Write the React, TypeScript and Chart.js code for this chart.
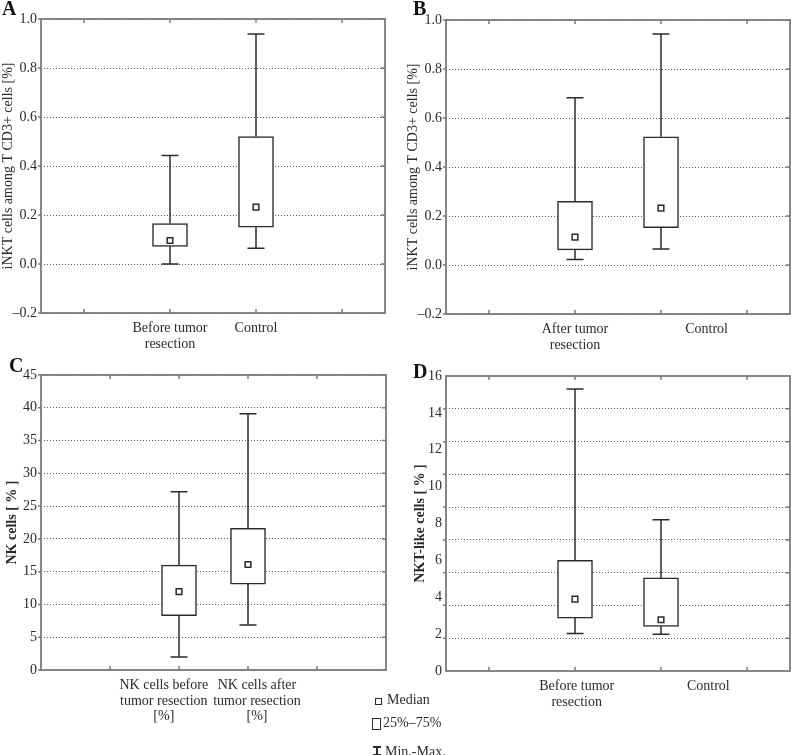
import React, { useEffect, useRef } from "react";
import { Chart, registerables } from "chart.js";

Chart.register(...registerables);

const FONT = "'Liberation Serif', 'Times New Roman', serif";
const INK = "#2b2b2b";
const FRAME = "#7a7a7a";
const GRID = "#5a5a5a";

// ---------- Panel A ----------
const labelsA = [["Before tumor", "resection"], ["Control"]];
const posA = [1.5, 2.5];
const labelPosA = [1.5, 2.5];
const tickMarksA = [0.5, 1.5, 2.5, 3.5];
const minA = [0.0, 0.064];
const q1A = [0.072, 0.15];
const medA = [0.096, 0.232];
const q3A = [0.165, 0.52];
const maxA = [0.443, 0.939];

// ---------- Panel B ----------
const labelsB = [["After tumor", "resection"], ["Control"]];
const posB = [1.5, 2.5];
const labelPosB = [1.5, 3.03];
const tickMarksB = [0.5, 1.5, 2.5, 3.5];
const minB = [0.022, 0.065];
const q1B = [0.062, 0.152];
const medB = [0.114, 0.232];
const q3B = [0.26, 0.523];
const maxB = [0.683, 0.943];

// ---------- Panel C ----------
const labelsC = [
  ["NK cells before", "tumor resection", "[%]"],
  ["NK cells after", "tumor resection", "[%]"],
];
const posC = [2, 3];
const labelPosC = [1.78, 3.13];
const tickMarksC = [1, 2, 3, 4];
const minC = [1.98, 6.86];
const q1C = [8.29, 13.1];
const medC = [11.95, 16.1];
const q3C = [16.0, 21.6];
const maxC = [27.2, 39.1];

// ---------- Panel D ----------
const labelsD = [["Before tumor", "resection"], ["Control"]];
const posD = [1.5, 2.5];
const labelPosD = [1.52, 3.05];
const tickMarksD = [0.5, 1.5, 2.5, 3.5];
const minD = [2.03, 2.0];
const q1D = [2.87, 2.42];
const medD = [3.9, 2.78];
const q3D = [6.0, 5.05];
const maxD = [15.3, 8.2];
const gridLinesD = [1.78, 3.56, 5.33, 7.11, 8.89, 10.67, 12.44, 14.22];

type PanelCfg = {
  labels: string[][];
  pos: number[];
  labelPos: number[];
  tickMarks: number[];
  mins: number[];
  q1: number[];
  med: number[];
  q3: number[];
  maxs: number[];
  xMax: number;
  yMin: number;
  yMax: number;
  yStep: number;
  yFmt: (v: number) => string;
  yTitle: string;
  titleBold: boolean;
  titlePad: number;
  pad: { top: number; right: number };
  yWidth: number;
  xHeight: number;
  extraGrid?: number[];
};

function makeChart(canvas: HTMLCanvasElement, c: PanelCfg) {
  const extras = {
    id: "boxExtras",
    afterDatasetsDraw(chart: any) {
      const ctx = chart.ctx;
      const xs = chart.scales.x;
      const ys = chart.scales.y;
      ctx.save();
      ctx.strokeStyle = INK;
      ctx.lineWidth = 1.5;
      const cap = 8.5;
      c.pos.forEach((p, i) => {
        const x = xs.getPixelForValue(p);
        const yMinP = ys.getPixelForValue(c.mins[i]);
        const yQ1 = ys.getPixelForValue(c.q1[i]);
        const yQ3 = ys.getPixelForValue(c.q3[i]);
        const yMaxP = ys.getPixelForValue(c.maxs[i]);
        ctx.beginPath();
        ctx.moveTo(x, yMinP);
        ctx.lineTo(x, yQ1);
        ctx.moveTo(x, yQ3);
        ctx.lineTo(x, yMaxP);
        ctx.moveTo(x - cap, yMinP);
        ctx.lineTo(x + cap, yMinP);
        ctx.moveTo(x - cap, yMaxP);
        ctx.lineTo(x + cap, yMaxP);
        ctx.stroke();
      });
      ctx.restore();
    },
    afterDraw(chart: any) {
      const ctx = chart.ctx;
      const a = chart.chartArea;
      const xs = chart.scales.x;
      const ys = chart.scales.y;
      ctx.save();
      ctx.strokeStyle = FRAME;
      ctx.lineWidth = 1.5;
      ctx.beginPath();
      c.tickMarks.forEach((t) => {
        const x = xs.getPixelForValue(t);
        ctx.moveTo(x, a.top);
        ctx.lineTo(x, a.top + 4);
        ctx.moveTo(x, a.bottom);
        ctx.lineTo(x, a.bottom - 4);
      });
      // small y tick marks: outward on left, inward on right
      const yMarks: number[] = c.extraGrid ? c.extraGrid : ys.ticks.map((t: any) => t.value);
      yMarks.forEach((v) => {
        const y = ys.getPixelForValue(v);
        ctx.moveTo(a.left - 3, y);
        ctx.lineTo(a.left, y);
        ctx.moveTo(a.right, y);
        ctx.lineTo(a.right - 4, y);
      });
      ctx.stroke();
      ctx.lineWidth = 1.8;
      ctx.strokeRect(a.left, a.top, a.right - a.left, a.bottom - a.top);
      ctx.restore();
    },
  };

  const scales: any = {
    x: {
      type: "linear",
      min: 0,
      max: c.xMax,
      offset: false,
      afterBuildTicks: (s: any) => {
        s.ticks = c.labelPos.map((v) => ({ value: v }));
      },
      afterFit: (s: any) => {
        s.height = c.xHeight;
      },
      grid: { display: false, drawTicks: false, offset: false },
      border: { display: false },
      ticks: {
        autoSkip: false,
        maxRotation: 0,
        padding: 8,
        color: INK,
        font: { family: FONT, size: 14, lineHeight: 1.1 },
        callback: (_v: any, i: number) => c.labels[i],
      },
    },
    y: {
      min: c.yMin,
      max: c.yMax,
      afterFit: (s: any) => {
        s.width = c.yWidth;
      },
      grid: {
        display: !c.extraGrid,
        drawTicks: false,
        color: GRID,
        lineWidth: 1,
      },
      border: { display: false, dash: [1, 2] },
      ticks: {
        stepSize: c.yStep,
        padding: 4,
        color: INK,
        font: { family: FONT, size: 14 },
        callback: (v: any) => c.yFmt(Number(v)),
      },
      title: {
        display: true,
        text: c.yTitle,
        color: INK,
        padding: { top: c.titlePad, bottom: 0 },
        font: { family: FONT, size: 14, weight: c.titleBold ? "bold" : "normal" },
      },
    },
  };
  if (c.extraGrid) {
    scales.yGrid = {
      position: "right",
      min: c.yMin,
      max: c.yMax,
      afterBuildTicks: (s: any) => {
        s.ticks = (c.extraGrid as number[]).map((v) => ({ value: v }));
      },
      afterFit: (s: any) => {
        s.width = 0;
      },
      ticks: { display: false },
      grid: { drawTicks: false, color: GRID, lineWidth: 1 },
      border: { display: false, dash: [1, 2] },
    };
  }

  return new Chart(canvas, {
    type: "bar",
    data: {
      datasets: [
        {
          type: "scatter",
          label: "Median",
          data: c.pos.map((p, i) => ({ x: p, y: c.med[i] })),
          pointStyle: "rect",
          pointRadius: 4,
          backgroundColor: "#ffffff",
          borderColor: INK,
          borderWidth: 1.5,
        } as any,
        {
          type: "bar",
          label: "25%–75%",
          data: c.pos.map((p, i) => ({ x: p, y: [c.q1[i], c.q3[i]] })),
          backgroundColor: "#ffffff",
          borderColor: INK,
          borderWidth: 1.5,
          borderSkipped: false,
          barThickness: 35,
        } as any,
      ],
    },
    options: {
      responsive: false,
      animation: false,
      devicePixelRatio: 1,
      layout: {
        autoPadding: false,
        padding: { top: c.pad.top, right: c.pad.right, left: 0, bottom: 0 },
      },
      plugins: { legend: { display: false }, tooltip: { enabled: false } },
      scales,
    } as any,
    plugins: [extras],
  });
}

const fmt1 = (v: number) => (Math.abs(v) < 1e-9 ? "0.0" : v < 0 ? "–" + Math.abs(v).toFixed(1) : v.toFixed(1));
const fmtInt = (v: number) => String(Math.round(v));

const panels: { key: string; left: number; top: number; w: number; h: number; cfg: PanelCfg }[] = [
  {
    key: "A", left: 0, top: 0, w: 395, h: 360,
    cfg: {
      labels: labelsA, pos: posA, labelPos: labelPosA, tickMarks: tickMarksA,
      mins: minA, q1: q1A, med: medA, q3: q3A, maxs: maxA,
      xMax: 4, yMin: -0.2, yMax: 1.0, yStep: 0.2, yFmt: fmt1,
      yTitle: "iNKT cells among T CD3+ cells [%]", titleBold: false, titlePad: 0,
      pad: { top: 19, right: 10 }, yWidth: 41, xHeight: 47,
    },
  },
  {
    key: "B", left: 405, top: 0, w: 386, h: 360,
    cfg: {
      labels: labelsB, pos: posB, labelPos: labelPosB, tickMarks: tickMarksB,
      mins: minB, q1: q1B, med: medB, q3: q3B, maxs: maxB,
      xMax: 4, yMin: -0.2, yMax: 1.0, yStep: 0.2, yFmt: fmt1,
      yTitle: "iNKT cells among T CD3+ cells [%]", titleBold: false, titlePad: 0,
      pad: { top: 20, right: 1 }, yWidth: 41, xHeight: 46,
    },
  },
  {
    key: "C", left: 0, top: 360, w: 395, h: 395,
    cfg: {
      labels: labelsC, pos: posC, labelPos: labelPosC, tickMarks: tickMarksC,
      mins: minC, q1: q1C, med: medC, q3: q3C, maxs: maxC,
      xMax: 5, yMin: 0, yMax: 45, yStep: 5, yFmt: fmtInt,
      yTitle: "NK cells [ % ]", titleBold: true, titlePad: 4,
      pad: { top: 15, right: 9 }, yWidth: 41, xHeight: 85,
    },
  },
  {
    key: "D", left: 405, top: 360, w: 386, h: 395,
    cfg: {
      labels: labelsD, pos: posD, labelPos: labelPosD, tickMarks: tickMarksD,
      mins: minD, q1: q1D, med: medD, q3: q3D, maxs: maxD,
      xMax: 4, yMin: 0, yMax: 16, yStep: 2, yFmt: fmtInt,
      yTitle: "NKT-like cells [ % ]", titleBold: true, titlePad: 7,
      pad: { top: 16, right: 1 }, yWidth: 41, xHeight: 84,
      extraGrid: gridLinesD,
    },
  },
];

const letters = [
  { t: "A", left: 2, top: -2 },
  { t: "B", left: 413, top: -2 },
  { t: "C", left: 9, top: 355 },
  { t: "D", left: 413, top: 361 },
];

function Panel({ left, top, w, h, cfg }: { left: number; top: number; w: number; h: number; cfg: PanelCfg }) {
  const ref = useRef<HTMLCanvasElement | null>(null);
  useEffect(() => {
    if (!ref.current) return;
    const chart = makeChart(ref.current, cfg);
    return () => chart.destroy();
  }, []);
  return (
    <canvas
      ref={ref}
      width={w}
      height={h}
      style={{ position: "absolute", left, top, width: w, height: h }}
    />
  );
}

const textStyle: React.CSSProperties = {
  position: "absolute",
  fontFamily: FONT,
  fontSize: 14,
  lineHeight: "16px",
  color: INK,
  whiteSpace: "nowrap",
};

export default function App() {
  return (
    <div style={{ position: "absolute", left: 0, top: 0, width: 791, height: 755, background: "#fff", overflow: "hidden" }}>
      {panels.map((p) => (
        <Panel key={p.key} left={p.left} top={p.top} w={p.w} h={p.h} cfg={p.cfg} />
      ))}
      {letters.map((l) => (
        <div
          key={l.t}
          style={{
            position: "absolute",
            left: l.left,
            top: l.top,
            fontFamily: FONT,
            fontWeight: "bold",
            fontSize: 20,
            lineHeight: "20px",
            color: "#111",
          }}
        >
          {l.t}
        </div>
      ))}
      {/* legend */}
      <div style={{ position: "absolute", left: 375, top: 698, width: 7, height: 7, boxSizing: "border-box", border: `1.5px solid ${INK}` }} />
      <div style={{ ...textStyle, left: 387, top: 692 }}>Median</div>
      <div style={{ position: "absolute", left: 372, top: 718, width: 9, height: 12, boxSizing: "border-box", border: `1.5px solid ${INK}` }} />
      <div style={{ ...textStyle, left: 383, top: 715 }}>25%–75%</div>
      <div style={{ position: "absolute", left: 373, top: 746, width: 8, height: 1.5, background: INK }} />
      <div style={{ position: "absolute", left: 376.3, top: 746, width: 1.5, height: 10, background: INK }} />
      <div style={{ position: "absolute", left: 373, top: 754, width: 8, height: 1.5, background: INK }} />
      <div style={{ ...textStyle, left: 385, top: 744 }}>Min.-Max.</div>
    </div>
  );
}
